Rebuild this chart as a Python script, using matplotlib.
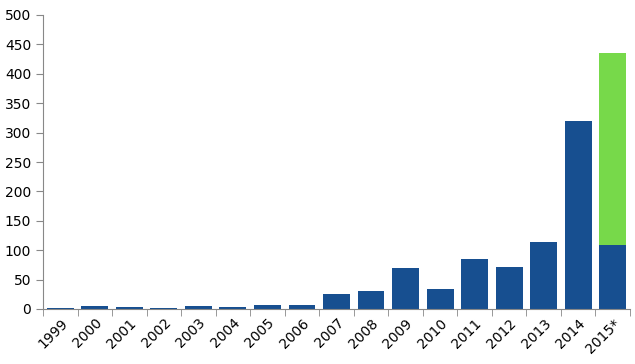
import matplotlib
matplotlib.use("Agg")
import matplotlib.pyplot as plt
import numpy as np

years = ["1999", "2000", "2001", "2002", "2003", "2004", "2005", "2006", "2007",
         "2008", "2009", "2010", "2011", "2012", "2013", "2014", "2015*"]
base = [2, 5, 3, 2, 5, 4, 7, 7, 26, 31, 70, 34, 85, 72, 114, 320, 109]
extra = [0, 0, 0, 0, 0, 0, 0, 0, 0, 0, 0, 0, 0, 0, 0, 0, 326]

fig = plt.figure(figsize=(6.35, 3.64), dpi=100)
ax = fig.add_axes([43/635, 1 - 309/364, (630-43)/635, (309-15)/364])

x = np.arange(len(years))
ax.bar(x, base, width=0.78, color="#174F90")
ax.bar(x, extra, bottom=base, width=0.78, color="#77D94A")

ax.set_xlim(-0.5, len(years) - 0.5)
ax.set_ylim(0, 500)
ax.set_yticks(np.arange(0, 501, 50))
ax.set_xticks(x)
ax.set_xticklabels(years, rotation=45, ha="right", rotation_mode="anchor", fontsize=10)
ax.set_xticks(np.arange(-0.5, len(years), 1), minor=True)
ax.tick_params(axis="x", which="major", length=0, pad=5)
ax.tick_params(axis="x", which="minor", length=5, color="#888888", direction="out")
ax.tick_params(axis="y", length=5, color="#888888", labelsize=10)
for s in ["top", "right"]:
    ax.spines[s].set_visible(False)
for s in ["left", "bottom"]:
    ax.spines[s].set_color("#888888")
ax.set_axisbelow(True)

fig.savefig("out.png", dpi=100)
